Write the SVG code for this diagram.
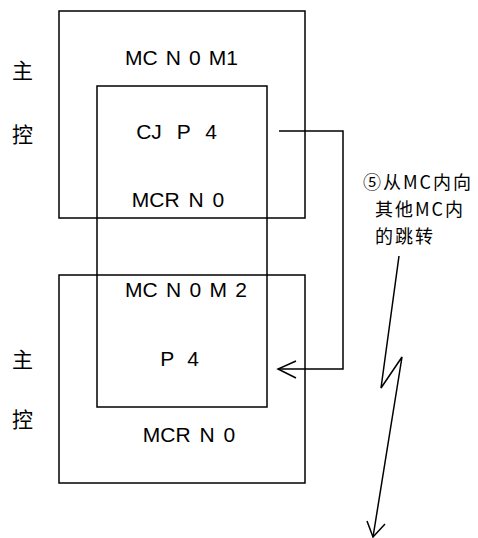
<svg xmlns="http://www.w3.org/2000/svg" width="478" height="538" viewBox="0 0 478 538">
<style>
.b{fill:none;stroke:#000;stroke-width:1.5}
.t{font-family:"Liberation Sans",Arial,sans-serif;font-size:21px;fill:#000;text-anchor:middle}
.c{font-family:"Noto Sans CJK SC","Liberation Sans",sans-serif;font-size:21px;fill:#000}
.a{font-family:"Noto Sans CJK SC","Liberation Sans",sans-serif;font-size:18px;letter-spacing:2px;fill:#000}
</style>
<rect width="478" height="538" fill="#fff"/>
<g id="mc1">
<rect class="b" x="59" y="11" width="246" height="207"/>
<text class="t" x="181.5" y="65" word-spacing="2.3">MC N 0 M1</text>
<text class="t" x="178" y="207" word-spacing="3">MCR N 0</text>
</g>
<g id="mc2">
<rect class="b" x="59" y="275" width="246" height="208"/>
<text class="t" x="186" y="297" word-spacing="2.5">MC N 0 M 2</text>
<text class="t" x="189" y="442" word-spacing="3">MCR N 0</text>
</g>
<g id="inner">
<rect class="b" x="97" y="86" width="170" height="321"/>
<text class="t" x="176.5" y="139" word-spacing="9">CJ P 4</text>
<text class="t" x="179.5" y="366" word-spacing="7.5">P 4</text>
</g>
<g id="labels">
<text class="c" x="12" y="78">主</text>
<text class="c" x="12" y="142">控</text>
<text class="c" x="12" y="367">主</text>
<text class="c" x="12" y="427">控</text>
<text class="a" x="363" y="189">⑤从MC内向</text>
<text class="a" x="375" y="216">其他MC内</text>
<text class="a" x="375" y="243">的跳转</text>
</g>
<g id="connectors">
<polyline class="b" points="279,131 343,131 343,369 278,369"/>
<polyline class="b" points="296,361 278,369 296,378"/>
<polyline class="b" points="399,256 381,388 402,357 373,537"/>
<polyline class="b" points="367,521 373,537 385,524"/>
</g>
</svg>
